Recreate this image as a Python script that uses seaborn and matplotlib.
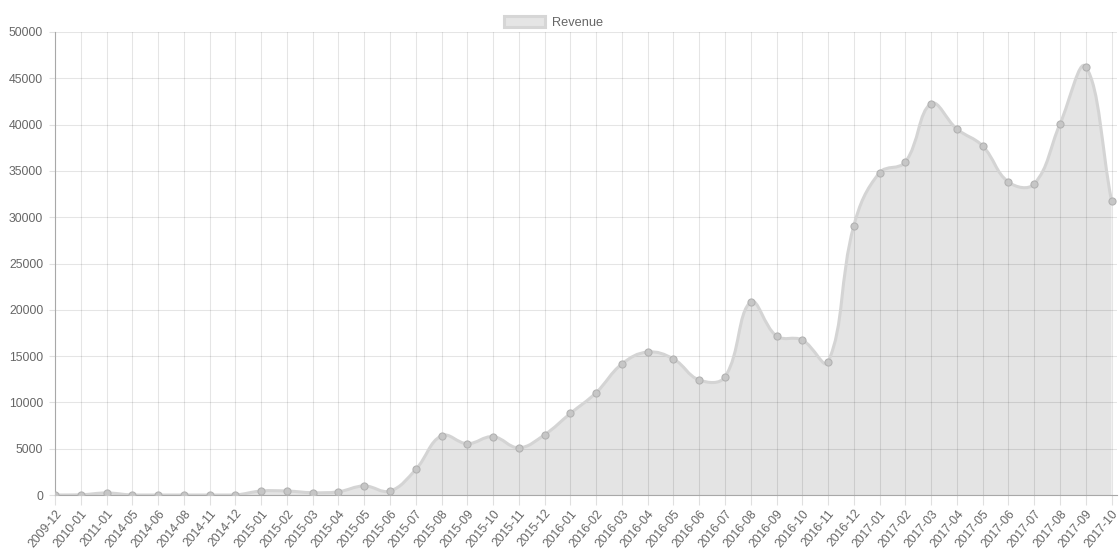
import numpy as np
import matplotlib
matplotlib.use("Agg")
import matplotlib.pyplot as plt
from matplotlib.path import Path
from matplotlib.patches import PathPatch, Patch
import seaborn as sns
import pandas as pd

months = ["2009-12", "2010-01", "2011-01", "2014-05", "2014-06", "2014-08", "2014-11",
          "2014-12", "2015-01", "2015-02", "2015-03", "2015-04", "2015-05", "2015-06",
          "2015-07", "2015-08", "2015-09", "2015-10", "2015-11", "2015-12", "2016-01",
          "2016-02", "2016-03", "2016-04", "2016-05", "2016-06", "2016-07", "2016-08",
          "2016-09", "2016-10", "2016-11", "2016-12", "2017-01", "2017-02", "2017-03",
          "2017-04", "2017-05", "2017-06", "2017-07", "2017-08", "2017-09", "2017-10"]
revenue = [0, 20, 220, 0, 0, 0, 0,
           0, 430, 430, 250, 350, 980, 430,
           2760, 6400, 5540, 6300, 5100, 6510, 8810,
           11050, 14150, 15440, 14690, 12420, 12750, 20840,
           17170, 16740, 14360, 29080, 34810, 35960, 42260,
           39520, 37690, 33800, 33590, 40060, 46250, 31780]
yticks = list(range(0, 50001, 5000))

sns.set_style("white")
plt.rcParams['font.family'] = ['Liberation Sans', 'DejaVu Sans']

W, H = 1119, 559
fig = plt.figure(figsize=(W / 100, H / 100), dpi=100)
ax = fig.add_axes([55 / W, (H - 495) / H, (1117 - 55) / W, (495 - 32) / H])

n = len(months)
xs = np.arange(n)
step_px = (1111.5 - 55) / (n - 1)
ax.set_xlim(0, (n - 1) + (1117 - 1111.5) / step_px)
ax.set_ylim(0, 50000)

df = pd.DataFrame({"x": xs, "Revenue": revenue})

# Chart.js style bezier (tension 0.4) computed in pixel space
pts = ax.transData.transform(np.column_stack([xs, revenue]).astype(float))
t = 0.4
cp_prev = np.zeros_like(pts)
cp_next = np.zeros_like(pts)
for i in range(n):
    p0 = pts[i - 1] if i > 0 else pts[i]
    p1 = pts[i]
    p2 = pts[i + 1] if i < n - 1 else pts[i]
    d01 = np.hypot(*(p1 - p0))
    d12 = np.hypot(*(p2 - p1))
    tot = d01 + d12
    s01 = d01 / tot if tot else 0
    s12 = d12 / tot if tot else 0
    cp_prev[i] = p1 - t * s01 * (p2 - p0)
    cp_next[i] = p1 + t * s12 * (p2 - p0)
bb = ax.bbox
for arr in (cp_prev, cp_next):
    arr[:, 0] = np.clip(arr[:, 0], bb.x0, bb.x1)
    arr[:, 1] = np.clip(arr[:, 1], bb.y0, bb.y1)
inv = ax.transData.inverted()
P = inv.transform(pts)
CP = inv.transform(cp_prev)
CN = inv.transform(cp_next)

verts = [P[0]]
codes = [Path.MOVETO]
for i in range(n - 1):
    verts += [CN[i], CP[i + 1], P[i + 1]]
    codes += [Path.CURVE4] * 3
line_path = Path(verts, codes)
fill_verts = verts + [(xs[-1], 0), (xs[0], 0), (xs[0], 0)]
fill_codes = codes + [Path.LINETO, Path.LINETO, Path.CLOSEPOLY]
fill_path = Path(fill_verts, fill_codes)

# grid
grid_c = (0, 0, 0, 0.1)
for y in yticks:
    ax.axhline(y, color=grid_c, lw=0.8, zorder=0)
for x in xs:
    ax.axvline(x, color=grid_c, lw=0.8, zorder=0)

ax.add_patch(PathPatch(fill_path, facecolor=(0, 0, 0, 0.105), edgecolor="none", zorder=1))
ax.add_patch(PathPatch(line_path, facecolor="none", edgecolor="#d4d4d4", lw=2.2, zorder=2))
sns.scatterplot(data=df, x="x", y="Revenue", ax=ax, s=26, color="#c6c6c6",
                edgecolor="#b2b2b2", linewidth=0.8, zorder=3, legend=False)

ax.set_xticks(xs)
ax.set_xticklabels(months, rotation=50, ha="right", rotation_mode="anchor")
ax.set_yticks(yticks)
ax.set_yticklabels([str(v) for v in yticks])
ax.set_xlabel("")
ax.set_ylabel("")
ax.tick_params(axis="x", length=7, width=0.8, color="#e0e0e0", labelsize=8.8,
               labelcolor="#666666", pad=2, bottom=True)
ax.tick_params(axis="y", length=4.5, width=0.8, color="#e0e0e0", labelsize=8.8,
               labelcolor="#666666", pad=4, left=True)
for s in ["top", "right"]:
    ax.spines[s].set_visible(False)
for s in ["left", "bottom"]:
    ax.spines[s].set_color("#a8a8a8")
    ax.spines[s].set_linewidth(0.8)

handle = Patch(facecolor="#e5e5e5", edgecolor="#d6d6d6", lw=2.2)
fig.legend([handle], ["Revenue"], loc="upper center",
           bbox_to_anchor=((W / 2 - 6) / W, 1.0 - 4 / H),
           frameon=False, fontsize=9.2, labelcolor="#666666",
           handlelength=3.2, handleheight=1.0, handletextpad=0.5)

fig.savefig("out.png", dpi=100)
